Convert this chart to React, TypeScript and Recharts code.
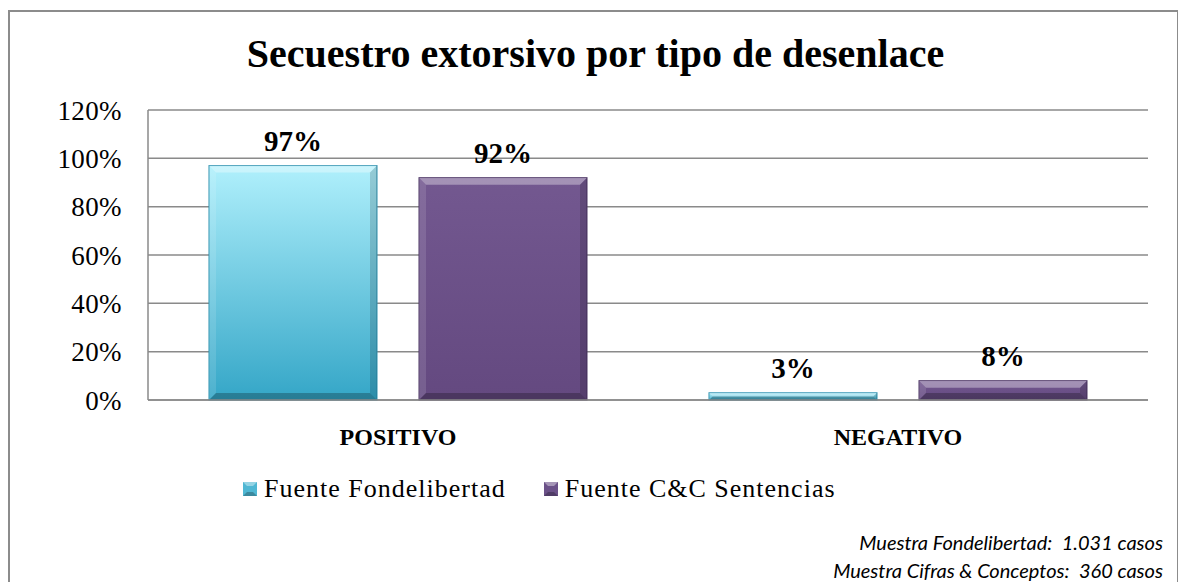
import React from "react";
import { BarChart, Bar, XAxis, YAxis, CartesianGrid, Legend, LabelList } from "recharts";

const categories = ["POSITIVO", "NEGATIVO"];
const fondelibertad = [97, 3];
const ccSentencias = [92, 8];
const seriesNames = ["Fuente Fondelibertad", "Fuente C&C Sentencias"];
const yTicks = [0, 20, 40, 60, 80, 100, 120];
const notes = ["Muestra Fondelibertad:  1.031 casos", "Muestra Cifras & Conceptos:  360 casos"];

const data = categories.map((name, i) => ({
  name,
  fonde: fondelibertad[i],
  cc: ccSentencias[i],
}));

const SERIF = "'Liberation Serif', 'Times New Roman', serif";
const SANS = "Lato, 'Open Sans', sans-serif";
const GRID = "#8a8a8a";
const legendIcons = ["#4fb7d3", "#6b5188"];

// bar with a simple bevel look (light top/left edge, dark right/bottom edge)
function BevelBar(props: any) {
  const { x, y, width, height, fill, edge } = props;
  if (!height || height <= 0) return null;
  const b = Math.min(7, height / 2, width / 2);
  const x2 = x + width;
  const y2 = y + height;
  return (
    <g>
      <rect x={x} y={y} width={width} height={height} fill={fill} stroke={edge} strokeWidth={1} />
      <polygon points={`${x},${y} ${x2},${y} ${x2 - b},${y + b} ${x + b},${y + b}`} fill="#fff" fillOpacity={0.35} />
      <polygon points={`${x},${y} ${x + b},${y + b} ${x + b},${y2 - b} ${x},${y2}`} fill="#fff" fillOpacity={0.12} />
      <polygon points={`${x2},${y} ${x2},${y2} ${x2 - b},${y2 - b} ${x2 - b},${y + b}`} fill="#000" fillOpacity={0.15} />
      <polygon points={`${x},${y2} ${x2},${y2} ${x2 - b},${y2 - b} ${x + b},${y2 - b}`} fill="#000" fillOpacity={0.25} />
    </g>
  );
}

function renderLegend(props: any) {
  // keep series order, not alphabetical
  const items = [...(props.payload || [])].sort(
    (a: any, b: any) => seriesNames.indexOf(a.value) - seriesNames.indexOf(b.value)
  );
  return (
    <div style={{ display: "flex", alignItems: "center", color: "#000" }}>
      {items.map((p: any) => {
        const i = seriesNames.indexOf(p.value);
        return (
          <div key={p.value} style={{ display: "flex", alignItems: "center", marginRight: 38 }}>
            <svg width={14} height={14} style={{ marginRight: 7 }}>
              <rect x={0} y={0} width={14} height={14} fill={legendIcons[i]} />
              <polygon points="0,0 14,0 10,4 4,4" fill="#fff" fillOpacity={0.4} />
              <polygon points="0,14 14,14 10,10 4,10" fill="#000" fillOpacity={0.25} />
            </svg>
            <span style={{ fontFamily: SERIF, fontSize: 26, letterSpacing: 1 }}>{p.value}</span>
          </div>
        );
      })}
    </div>
  );
}

export default function App() {
  return (
    <div style={{ position: "relative", width: 1178, height: 574, overflow: "hidden", background: "#fff" }}>
      <div
        style={{
          position: "absolute",
          left: 0,
          top: 2,
          width: 1171,
          height: 620,
          border: "2px solid #8c8c8c",
          boxSizing: "border-box",
        }}
      />
      <div
        style={{
          position: "absolute",
          left: 0,
          width: 1175,
          top: 26,
          textAlign: "center",
          fontFamily: SERIF,
          fontWeight: "bold",
          fontSize: 40,
          lineHeight: 1,
          color: "#000",
        }}
      >
        Secuestro extorsivo por tipo de desenlace
      </div>
      <BarChart
        width={1178}
        height={574}
        data={data}
        margin={{ top: 102, right: 38, left: 0, bottom: 102 }}
        barCategoryGap={61}
        barGap={42}
      >
        <defs>
          <linearGradient id="gradCyan" x1="0" y1="0" x2="0" y2="1">
            <stop offset="0%" stopColor="#b0f0fc" />
            <stop offset="100%" stopColor="#34a6c7" />
          </linearGradient>
          <linearGradient id="gradPurple" x1="0" y1="0" x2="0" y2="1">
            <stop offset="0%" stopColor="#735890" />
            <stop offset="100%" stopColor="#644980" />
          </linearGradient>
        </defs>
        <CartesianGrid vertical={false} stroke={GRID} strokeWidth={1.5} />
        <XAxis
          dataKey="name"
          axisLine={{ stroke: GRID, strokeWidth: 1.5 }}
          tickLine={false}
          tickMargin={22}
          height={50}
          tick={{ fontFamily: SERIF, fontSize: 24, fontWeight: "bold", fill: "#000" }}
        />
        <YAxis
          domain={[0, 120]}
          ticks={yTicks}
          width={140}
          axisLine={{ stroke: GRID, strokeWidth: 1.5 }}
          tickLine={false}
          tickMargin={20}
          tickFormatter={(v: number) => `${v}%`}
          tick={{ fontFamily: SERIF, fontSize: 27, letterSpacing: 0.4, fill: "#000" }}
        />
        <Legend
          content={renderLegend}
          wrapperStyle={{ left: 235, top: 466, bottom: "auto", width: "auto" }}
        />
        <Bar
          dataKey="fonde"
          name={seriesNames[0]}
          fill="url(#gradCyan)"
          isAnimationActive={false}
          shape={(p: any) => <BevelBar {...p} edge="#2b8fae" />}
        >
          <LabelList
            dataKey="fonde"
            position="top"
            offset={15}
            formatter={(v: any) => `${v}%`}
            style={{ fontFamily: SERIF, fontSize: 29, fontWeight: "bold", fill: "#000" }}
          />
        </Bar>
        <Bar
          dataKey="cc"
          name={seriesNames[1]}
          fill="url(#gradPurple)"
          isAnimationActive={false}
          shape={(p: any) => <BevelBar {...p} edge="#4a3463" />}
        >
          <LabelList
            dataKey="cc"
            position="top"
            offset={15}
            formatter={(v: any) => `${v}%`}
            style={{ fontFamily: SERIF, fontSize: 29, fontWeight: "bold", fill: "#000" }}
          />
        </Bar>
      </BarChart>
      <div
        style={{
          position: "absolute",
          right: 23,
          top: 520,
          textAlign: "right",
          fontFamily: SANS,
          fontStyle: "italic",
          fontSize: 20,
          lineHeight: "28px",
          color: "#000",
          whiteSpace: "pre",
        }}
      >
        {notes.map((n, i) => (
          <div key={i}>{n}</div>
        ))}
      </div>
    </div>
  );
}
